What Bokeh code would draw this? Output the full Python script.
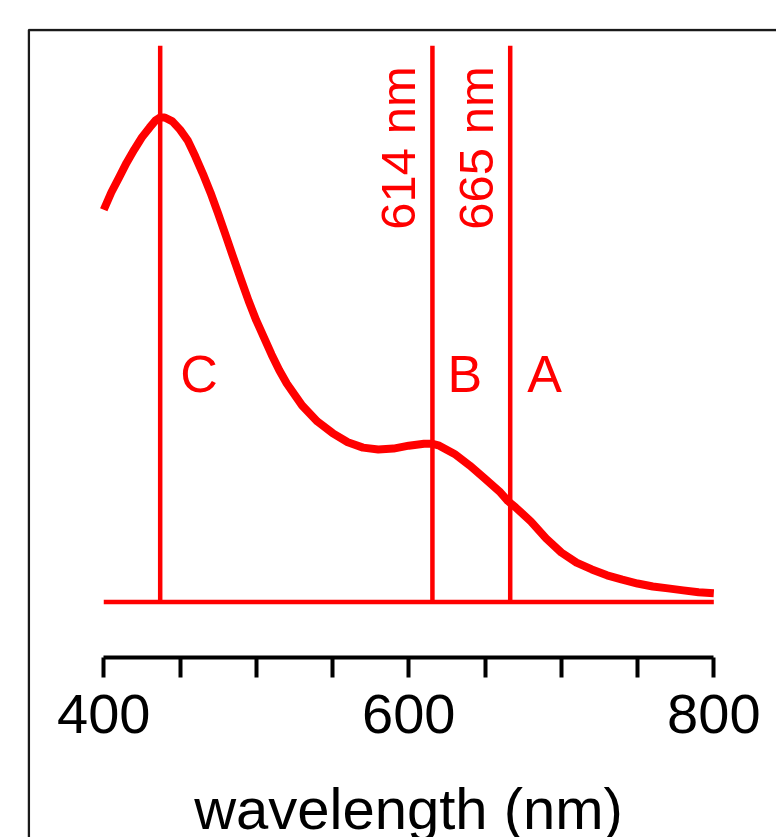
import math
from bokeh.plotting import figure
from bokeh.models import LinearAxis, FixedTicker, Range1d, ColumnDataSource, BoxAnnotation
from bokeh.core.properties import value
from bokeh.embed import file_html
from bokeh.resources import INLINE

# ---- data ----
wavelength = [400, 405, 410, 415, 420, 425, 430, 434, 437, 440,
              445, 450, 455, 460, 465, 470, 475, 480, 485,
              490, 495, 500, 505, 510, 515, 520, 530, 540, 550, 560, 570,
              580, 590, 600, 610, 615, 620, 630, 640, 650, 660,
              665, 670, 680, 690, 700, 710, 720, 730, 740, 750,
              760, 770, 780, 790, 800]
absorbance = [0.808, 0.844, 0.874, 0.905, 0.932, 0.957, 0.977, 0.992, 0.998, 0.998,
              0.990, 0.973, 0.951, 0.918, 0.882, 0.843, 0.800, 0.755, 0.709,
              0.664, 0.620, 0.580, 0.545, 0.510, 0.478, 0.450, 0.405, 0.372, 0.348, 0.329, 0.318,
              0.314, 0.316, 0.322, 0.326, 0.326, 0.322, 0.305, 0.281, 0.254, 0.226,
              0.208, 0.195, 0.166, 0.131, 0.102, 0.081, 0.067, 0.055, 0.046, 0.038,
              0.032, 0.028, 0.024, 0.020, 0.018]

line_wavelengths = [437, 615.5, 666.5]
line_letters = ["C", "B", "A"]
marked_wavelengths = [615.5, 666.5]
marked_labels = ["614 nm", "665 nm"]
baseline_range = [400, 800]
major_ticks = [400, 600, 800]
minor_ticks = [450, 500, 550, 650, 700, 750]
x_label = "wavelength (nm)"

# ---- layout constants ----
RED = "#ff0000"
FONT = "Liberation Sans"
X_START, X_END = 350.0, 841.1
Y_START, Y_END = -0.4851, 1.1813
PX_X = 1.525      # px per nm
PX_Y = 485.5      # px per absorbance unit
LINE_TOP = 1.146
LETTER_Y = 0.4295
LETTER_DX = [20, 15, 17]
LETTER_DY = -19
ROT_Y = 0.767
ROT_DX = -34
AXIS_Y = -0.1143

p = figure(width=776, height=837,
           x_range=Range1d(X_START, X_END), y_range=Range1d(Y_START, Y_END),
           x_axis_type=None, y_axis_type=None,
           toolbar_location=None, output_backend="svg",
           min_border_left=27, min_border_top=28,
           min_border_right=0, min_border_bottom=0)
p.outline_line_color = None
p.background_fill_color = "white"
p.border_fill_color = "white"

# open box border (right and bottom edges fall outside the picture)
p.add_layout(BoxAnnotation(left=X_START + 1.3 / PX_X, top=Y_END - 1.5 / PX_Y,
                           right=X_END + 100, bottom=Y_START - 1,
                           fill_alpha=0, line_color="#1a1a1a", line_alpha=1.0,
                           line_width=2.5))

# baseline
p.segment(x0=[baseline_range[0]], y0=[0], x1=[baseline_range[1]], y1=[0],
          line_color=RED, line_width=4.5)

# vertical marker lines
p.segment(x0=line_wavelengths, y0=[0] * 3, x1=line_wavelengths, y1=[LINE_TOP] * 3,
          line_color=RED, line_width=4.5)

# spectrum
p.line(wavelength, absorbance, line_color=RED, line_width=8, line_join="round")

# letters
src_letters = ColumnDataSource(dict(x=line_wavelengths, y=[LETTER_Y] * 3,
                                    t=line_letters, dx=LETTER_DX))
p.text(x="x", y="y", text="t", x_offset="dx", y_offset=LETTER_DY, source=src_letters,
       text_color=RED, text_font=value(FONT), text_font_size="52px",
       text_align="left", text_baseline="alphabetic")

# rotated wavelength labels
p.text(x=marked_wavelengths, y=[ROT_Y] * 2, text=marked_labels, x_offset=ROT_DX,
       angle=math.pi / 2, text_color=RED, text_font=value(FONT),
       text_font_size="49px", text_align="left", text_baseline="alphabetic")

# x axis
ax = LinearAxis(fixed_location=AXIS_Y, bounds=(400, 800),
                ticker=FixedTicker(ticks=major_ticks, minor_ticks=minor_ticks),
                axis_label=x_label)
ax.axis_line_color = "black"
ax.axis_line_width = 4
ax.major_tick_line_color = "black"
ax.major_tick_line_width = 4
ax.minor_tick_line_color = "black"
ax.minor_tick_line_width = 4
ax.major_tick_in = 0
ax.major_tick_out = 20
ax.minor_tick_in = 0
ax.minor_tick_out = 20
ax.major_label_text_font = FONT
ax.major_label_text_font_size = "56px"
ax.major_label_text_color = "black"
ax.major_label_standoff = 18
ax.axis_label_text_font = FONT
ax.axis_label_text_font_size = "58px"
ax.axis_label_text_font_style = "normal"
ax.axis_label_text_color = "black"
ax.axis_label_standoff = 39
p.add_layout(ax, "below")

open("out.html", "w").write(file_html(p, INLINE))
